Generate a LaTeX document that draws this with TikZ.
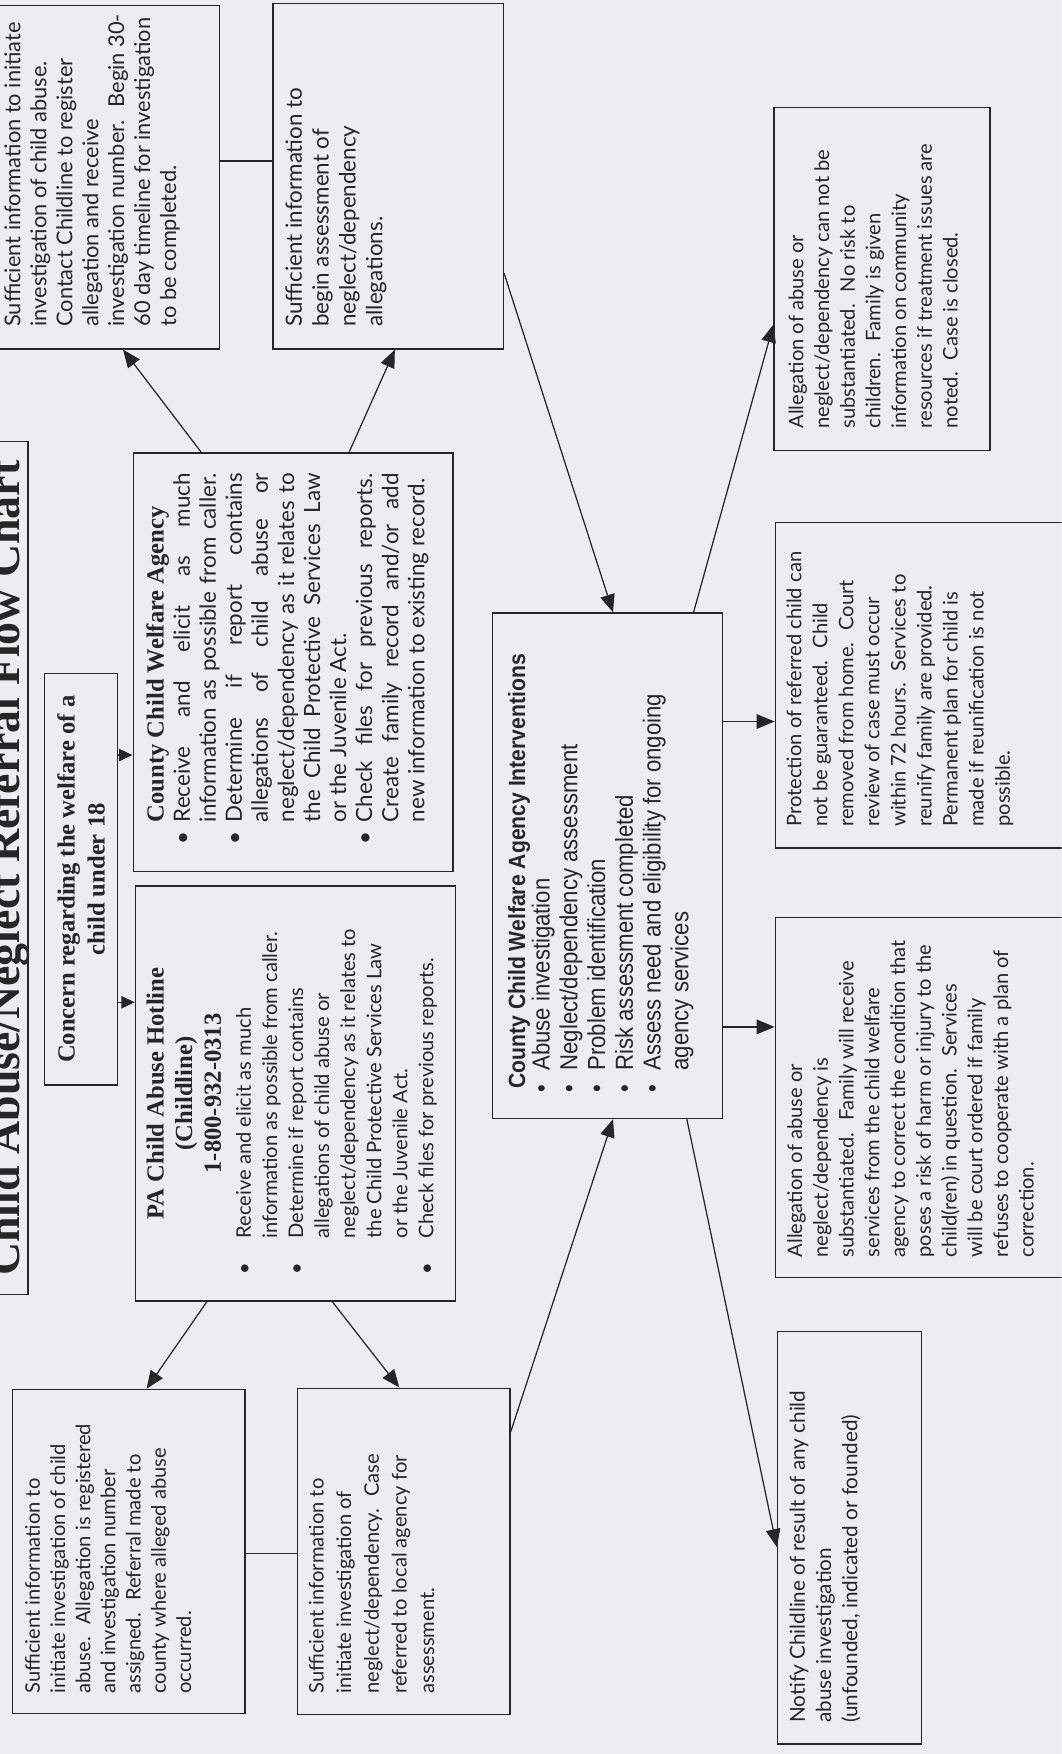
\documentclass[tikz,border=0pt]{standalone}
\usepackage{fontspec}
\usetikzlibrary{arrows.meta}

\newfontfamily\bodyfont{Lato}
\newfontfamily\serifhead{Liberation Serif}
\newfontfamily\condfont[FakeStretch=0.9]{Liberation Sans}

\definecolor{ink}{RGB}{38,38,38}
\definecolor{paper}{RGB}{236,237,240}

\newcommand{\bigtext}{\bodyfont\fontsize{20}{23.3}\selectfont}
\newcommand{\smalltext}{\bodyfont\fontsize{18}{23.3}\selectfont}
\newcommand{\headtext}{\serifhead\bfseries\fontsize{22}{25.5}\selectfont}
\newcommand{\bitem}[2]{\hangindent=#1\hangafter=1\noindent\makebox[#1][l]{\textbullet}#2\par}
\newcommand{\jline}[1]{\makebox[312pt][s]{#1}}

\tikzset{
	flowbox/.style={draw=ink, line width=1.1pt, rotate=90, inner sep=0pt, text=ink},
	flowarrow/.style={draw=ink, line width=1.1pt, -{Triangle[length=16pt,width=13pt]}},
	stubarrow/.style={draw=ink, line width=1.1pt, -{Triangle[length=12pt,width=11pt]}},
	flowlink/.style={draw=ink, line width=1.1pt}
}

\begin{document}
\begin{tikzpicture}[x=1pt, y=-1pt]

	\useasboundingbox (0,0) rectangle (949,1568);
	\clip (0,0) rectangle (949,1568);
	\fill[paper] (0,0) rectangle (949,1568);

	\node[flowbox, anchor=base, minimum width=762pt, text height=27pt, text depth=8pt,
		font=\serifhead\bfseries\fontsize{41}{45}\selectfont] (title) at (17,776)
		{Child Abuse/Neglect Referral Flow Chart};

	\node[flowbox, minimum width=368pt, minimum height=65pt, align=center,
		font=\headtext\fontsize{22}{27}\selectfont] (concern) at (72.5,786)
		{Concern regarding the welfare of a\\child under 18};

	\node[flowbox, minimum width=374pt, minimum height=286pt] (county) at (262,592)
		{\parbox[c][267pt][t]{364pt}{\leftskip=19pt
			{\headtext\strut\hspace*{20pt}County Child Welfare Agency\par}
			\bigtext
			\bitem{20pt}{\jline{Receive and elicit as much}\\\jline{information as possible from caller.}}
			\bitem{20pt}{\jline{Determine if report contains}\\\jline{allegations of child abuse or}\\\jline{neglect/dependency as it relates to}\\\jline{the Child Protective Services Law}\\or the Juvenile Act.}
			\bitem{20pt}{\jline{Check files for previous reports.}\\\jline{Create family record and/or add}\\new information to existing record.}}};

	\node[flowbox, minimum width=371pt, minimum height=286pt] (hotline) at (264,977.5)
		{\parbox[c][271pt][t]{361pt}{
			{\headtext\centering\strut PA Child Abuse Hotline\\(Childline)\\1-800-932-0313\par}
			\leftskip=19pt\smalltext\vspace{3.7pt}
			\bitem{32pt}{Receive and elicit as much\\information as possible from caller.}
			\bitem{32pt}{Determine if report contains\\allegations of child abuse or\\neglect/dependency as it relates to\\the Child Protective Services Law\\or the Juvenile Act.}
			\bitem{32pt}{Check files for previous reports.}}};

	\node[flowbox, minimum width=307pt, minimum height=201pt] (abusereg) at (95.5,158.5)
		{\parbox[c][187pt][t]{297pt}{\bodyfont\fontsize{19.5}{23.2}\selectfont\leftskip=15pt
			\strut Sufficient information to initiate\\investigation of child abuse.\\Contact Childline to register\\allegation and receive\\investigation number.~ Begin 30-\\60 day timeline for investigation\\to be completed.}};

	\node[flowbox, minimum width=309pt, minimum height=206pt] (neglectassess) at (347,157.5)
		{\parbox[c][188pt][t]{299pt}{\bodyfont\fontsize{20}{24}\selectfont\leftskip=15pt
			\strut Sufficient information to\\begin assessment of\\neglect/dependency\\allegations.}};

	\node[flowbox, minimum width=290pt, minimum height=208pt] (abuseref) at (115,1387)
		{\parbox[c][190pt][t]{280pt}{\bodyfont\fontsize{18}{22.5}\selectfont\leftskip=13pt
			\strut Sufficient information to\\initiate investigation of child\\abuse.~ Allegation is registered\\and investigation number\\assigned.~ Referral made to\\county where alleged abuse\\occurred.}};

	\node[flowbox, minimum width=292pt, minimum height=190pt] (neglectref) at (361,1387)
		{\parbox[c][178pt][t]{282pt}{\bodyfont\fontsize{18}{24.7}\selectfont\leftskip=14pt
			\strut Sufficient information to\\initiate investigation of\\neglect/dependency.~ Case\\referred to local agency for\\assessment.}};

	\node[flowbox, minimum width=452pt, minimum height=206pt] (interventions) at (543,774)
		{\parbox[c][182pt][t]{442pt}{\leftskip=18pt
			{\condfont\bfseries\fontsize{21}{24.8}\selectfont\strut\hspace*{4pt}County Child Welfare Agency Interventions\par}
			\condfont\fontsize{22}{24.8}\selectfont\vspace{-2.8pt}
			\bitem{20pt}{Abuse investigation}
			\bitem{20pt}{Neglect/dependency assessment}
			\bitem{20pt}{Problem identification}
			\bitem{20pt}{Risk assessment completed}
			\bitem{20pt}{Assess need and eligibility for ongoing\\agency services}}};

	\node[flowbox, minimum width=307pt, minimum height=193pt] (unsubst) at (788.5,249.5)
		{\parbox[c][173pt][t]{297pt}{\bodyfont\fontsize{18}{23}\selectfont\leftskip=15pt
			\strut Allegation of abuse or\\neglect/dependency can not be\\substantiated.~ No risk to\\children.~ Family is given\\information on community\\resources if treatment issues are\\noted.~ Case is closed.}};

	\node[flowbox, minimum width=291pt, minimum height=269pt] (removal) at (827.5,612.5)
		{\parbox[c][255pt][t]{281pt}{\smalltext\leftskip=14pt
			\strut Protection of referred child can\\not be guaranteed.~ Child\\removed from home.~ Court\\review of case must occur\\within 72 hours.~ Services to\\reunify family are provided.\\Permanent plan for child is\\made if reunification is not\\possible.}};

	\node[flowbox, minimum width=322pt, minimum height=269pt] (subst) at (827.5,981)
		{\parbox[c][253pt][t]{312pt}{\bodyfont\fontsize{18}{23}\selectfont\leftskip=13pt
			\strut Allegation of abuse or\\neglect/dependency is\\substantiated.~ Family will receive\\services from the child welfare\\agency to correct the condition that\\poses a risk of harm or injury to the\\child(ren) in question.~ Services\\will be court ordered if family\\refuses to cooperate with a plan of\\correction.}};

	\node[flowbox, minimum width=369pt, minimum height=129pt] (notify) at (759.5,1374.5)
		{\parbox[c][113pt][t]{359pt}{\bodyfont\fontsize{18.5}{23.5}\selectfont\leftskip=14pt
			\strut Notify Childline of result of any child\\abuse investigation\\(unfounded, indicated or founded)}};

	\draw[stubarrow] (concern.south |- 0,675) -- (county.north |- 0,675);
	\draw[stubarrow] (concern.south |- 0,896) -- (hotline.north |- 0,896);

	\draw[flowarrow] (county.east -| 180,0) -- (abusereg.west -| 110,0);
	\draw[flowarrow] (county.east -| 312,0) -- (neglectassess.west -| 353,0);
	\draw[flowlink] (abusereg.south |- 0,144) -- (neglectassess.north |- 0,144);

	\draw[flowarrow] (hotline.west -| 185,0) -- (abuseref.east -| 131,0);
	\draw[flowarrow] (hotline.west -| 297,0) -- (neglectref.east -| 357,0);
	\draw[flowlink] (abuseref.south |- 0,1389) -- (neglectref.north |- 0,1389);

	\draw[flowarrow] (neglectassess.south |- 0,244) -- (interventions.east -| 548,0);
	\draw[flowarrow] (neglectref.south |- 0,1280) -- (interventions.west -| 548,0);

	\draw[flowarrow] (interventions.east -| 620,0) -- (unsubst.north |- 0,290);
	\draw[flowarrow] (interventions.south |- 0,645) -- (removal.north |- 0,645);
	\draw[flowarrow] (interventions.south |- 0,918) -- (subst.north |- 0,918);
	\draw[flowarrow] (interventions.west -| 614,0) -- (notify.north |- 0,1383);

\end{tikzpicture}
\end{document}
